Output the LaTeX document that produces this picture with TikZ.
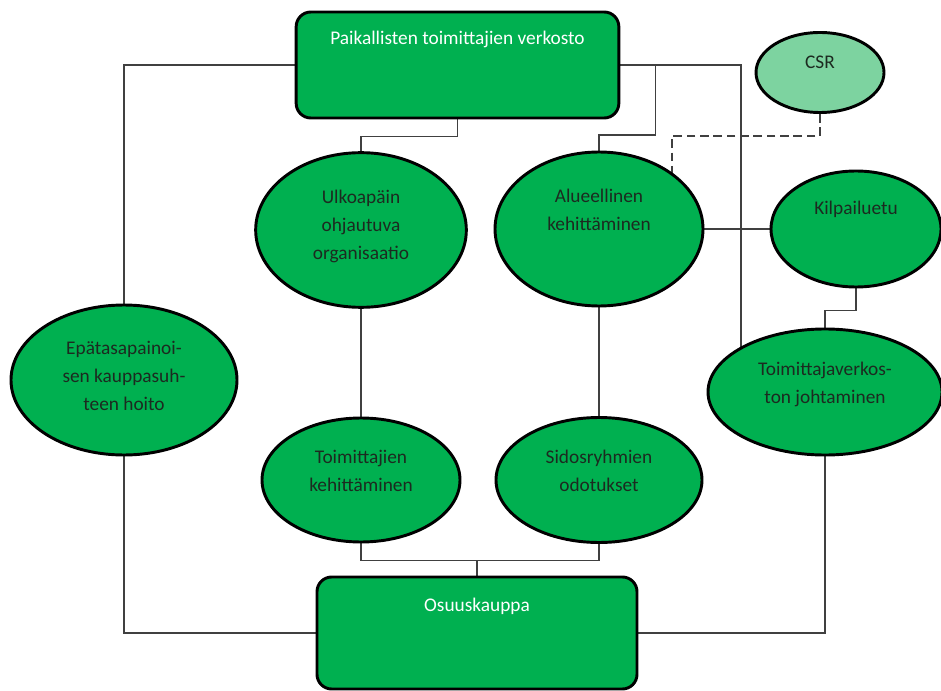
\documentclass[tikz,border=0pt]{standalone}
\usepackage{fontspec}
\setmainfont{Carlito}
\usepackage{tikz}
\usetikzlibrary{shapes.geometric,backgrounds}
\definecolor{leaf}{HTML}{00B050}
\definecolor{pale}{HTML}{7DD3A0}
\definecolor{ink}{HTML}{1C2A20}
\def\tbox#1#2{\vbox to #1{\hbox{\begin{tabular}{@{}c@{}}#2\end{tabular}}\vfil}}

\begin{document}
\begin{tikzpicture}[x=0.75pt, y=-0.75pt, font=\fontsize{14.5}{21}\selectfont,
    box/.style={draw=black, line width=2.2pt, fill=leaf, rounded corners=11pt, inner sep=0pt, text=white},
    oval/.style={ellipse, draw=black, line width=2.2pt, fill=leaf, inner sep=0pt, text=ink},
    link/.style={draw=black!75, line width=1pt}]
    \useasboundingbox (0,0) rectangle (941,691);

    \node[box, minimum width=242pt, minimum height=79.5pt] (pk) at (457.5,65) {\tbox{60pt}{Paikallisten toimittajien verkosto}};
    \node[box, minimum width=240pt, minimum height=84pt] (osu) at (477,633) {\tbox{62pt}{Osuuskauppa}};

    \node[oval, fill=pale, minimum width=96pt, minimum height=60pt] (csr) at (820,72.5) {\tbox{35pt}{CSR}};
    \node[oval, minimum width=158pt, minimum height=116pt] (ulko) at (361,230) {\tbox{69.5pt}{Ulkoapäin\\ohjautuva\\organisaatio}};
    \node[oval, minimum width=156pt, minimum height=115.5pt] (alu) at (599,229) {\tbox{69pt}{Alueellinen\\kehittäminen}};
    \node[oval, minimum width=127.5pt, minimum height=87pt] (kilp) at (856,229) {\tbox{51pt}{Kilpailuetu}};
    \node[oval, minimum width=169.5pt, minimum height=112.5pt] (epa) at (124,380) {\tbox{67.5pt}{Epätasapainoi-\\sen kauppasuh-\\teen hoito}};
    \node[oval, minimum width=175.5pt, minimum height=94.5pt] (verk) at (825,392) {\tbox{54pt}{Toimittajaverkos-\\ton johtaminen}};
    \node[oval, minimum width=148.5pt, minimum height=93pt] (tkeh) at (361,480) {\tbox{54pt}{Toimittajien\\kehittäminen}};
    \node[oval, minimum width=154.5pt, minimum height=93.75pt] (sidos) at (599,480) {\tbox{53.5pt}{Sidosryhmien\\odotukset}};

    \begin{scope}[on background layer]
      \draw[link] (pk.west) -| (epa.north);
      \draw[link] (pk.south) -- ++(0,17) -| (ulko.north);
      \draw[link] (pk.east) -| ++(35,70) -| (alu.north);
      \draw[link] (pk.east) -| ([xshift=-63pt]verk.center);
      \draw[link, dash pattern=on 6.5pt off 3.5pt] (csr.south) -- ++(0,22) -| ([xshift=54.75pt]alu.center);
      \draw[link] (alu.east) -- (kilp.west);
      \draw[link] (kilp.south) -- ++(0,22) -| (verk.north);
      \draw[link] (ulko.south) -- (tkeh.north);
      \draw[link] (alu.south) -- (sidos.north);
      \draw[link] (tkeh.south) -- ++(0,17) coordinate (fork) -| (sidos.south);
      \draw[link] (osu.north) -- (osu.north |- fork);
      \draw[link] (epa.south) |- (osu.west);
      \draw[link] (verk.south) |- (osu.east);
    \end{scope}
\end{tikzpicture}
\end{document}
